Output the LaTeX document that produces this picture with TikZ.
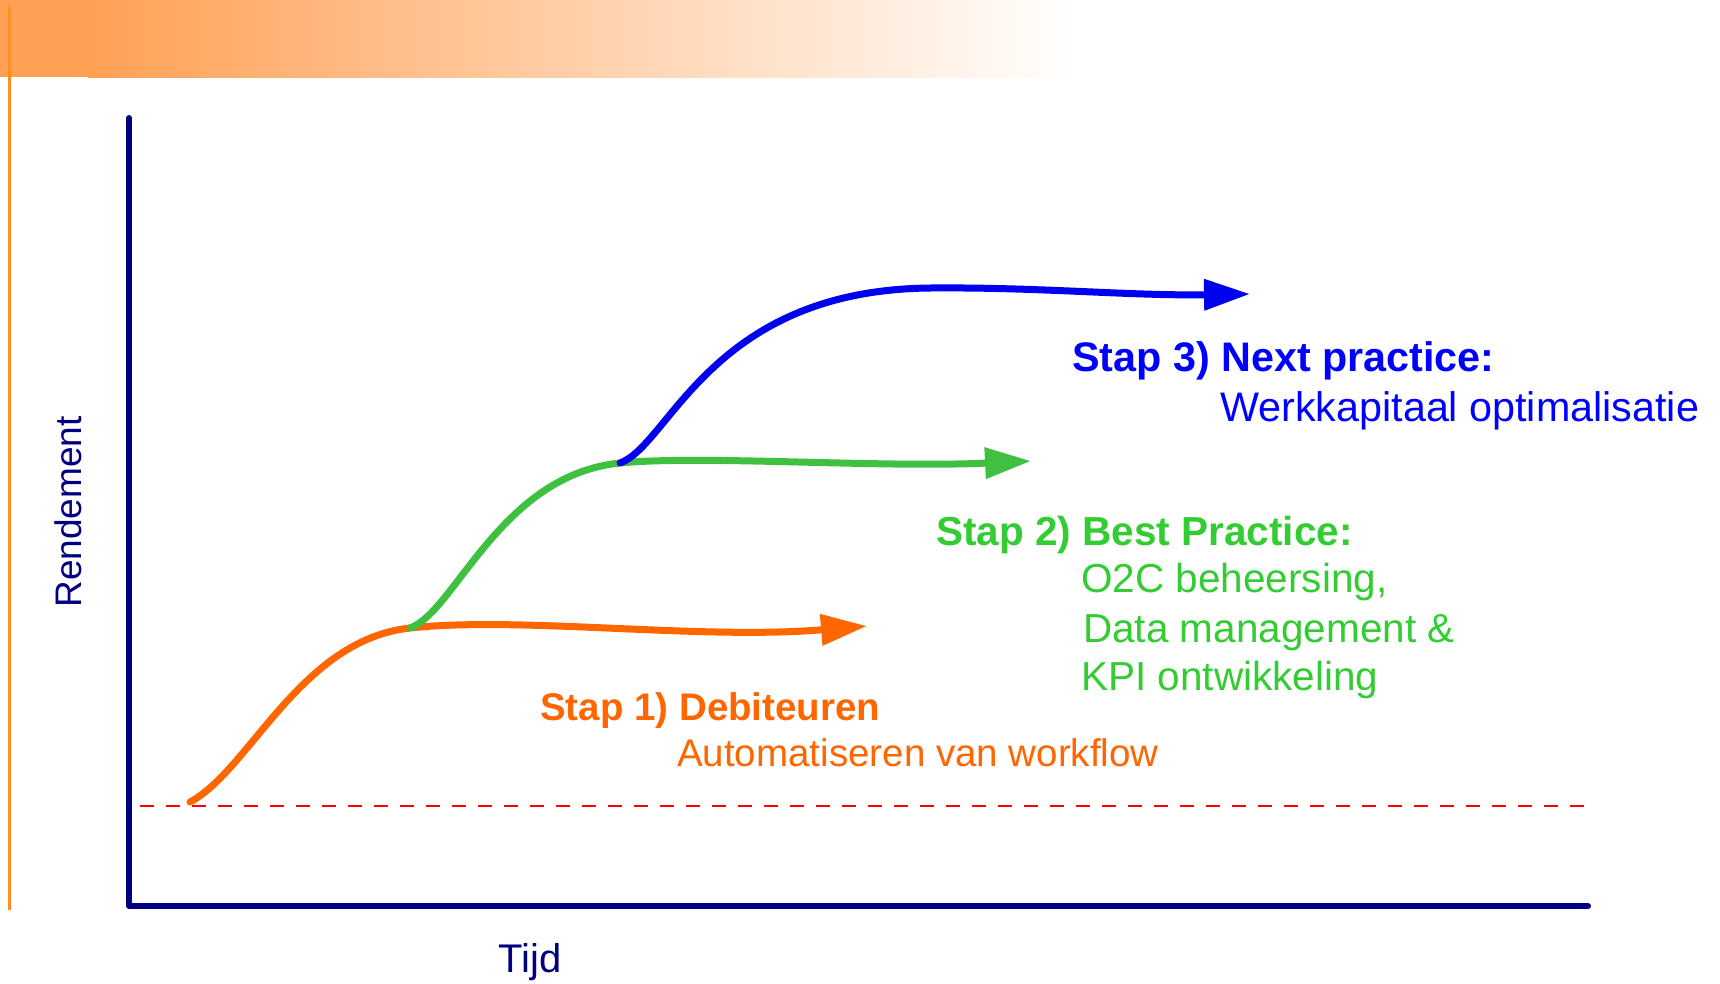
\documentclass[tikz,border=0pt]{standalone}
\usepackage{fontspec}
\setmainfont{Liberation Sans}
\usetikzlibrary{arrows.meta}
\definecolor{cOrange}{RGB}{255,102,0}
\definecolor{cGreen}{RGB}{64,192,64}
\definecolor{cGreenT}{RGB}{51,204,51}
\definecolor{cBlue}{RGB}{0,0,240}
\definecolor{cBlueT}{RGB}{0,0,255}
\definecolor{cNavy}{RGB}{0,0,128}
\definecolor{cBanner}{RGB}{255,160,85}
\definecolor{cSide}{RGB}{255,144,32}
\tikzset{
  big/.style={font=\fontsize{38.5}{46}\selectfont, inner sep=0pt},
  bigb/.style={font=\fontsize{38.5}{46}\selectfont\bfseries, inner sep=0pt},
  grn/.style={font=\fontsize{40.5}{48}\selectfont, inner sep=0pt},
  grnb/.style={font=\fontsize{40.5}{48}\selectfont\bfseries, inner sep=0pt},
  blu/.style={font=\fontsize{41.3}{49}\selectfont, inner sep=0pt},
  blub/.style={font=\fontsize{41.3}{49}\selectfont\bfseries, inner sep=0pt},
  curve/.style={line width=7pt, line cap=round},
  tip/.style={-{Triangle[length=46pt,width=30pt]}},
}
\begin{document}
\begin{tikzpicture}[x=1pt,y=-1pt]
\useasboundingbox (0,0) rectangle (1720,983);
% banner
\shade[left color=cBanner, right color=white] (88,0) rectangle (1075,77);
\fill[cBanner] (0,0) rectangle (92,77);
\draw[cSide, line width=3pt] (9,7) -- (9,910);
% axes
\coordinate (top) at (129,118);
\coordinate (orig) at (129,906);
\coordinate (right) at (1588,906);
\draw[cNavy, line width=6pt, line cap=round, line join=round] (top) -- (orig) -- (right);
% dashed base line
\coordinate (dl) at (140,806);
\coordinate (dr) at (1588,806);
\draw[red, line width=2pt, dash pattern=on 14pt off 12pt] (dl) -- (dr);
% curves
\coordinate (o0) at (190,802);
\coordinate (o1) at (410,628);
\coordinate (o2) at (867,626);
\coordinate (g1) at (620,463);
\coordinate (g2) at (1031,461);
\coordinate (b1) at (930,288);
\coordinate (b2) at (1250,294);
\draw[curve, cOrange, tip] (o0) .. controls (250,770) and (300,640) .. (o1)
  .. controls (520,616) and (700,640) .. (o2);
\draw[curve, cGreen, tip] (o1) .. controls (455,612) and (500,475) .. (g1)
  .. controls (700,455) and (880,468) .. (g2);
\draw[curve, cBlue, tip] (g1) .. controls (670,445) and (710,290) .. (b1)
  .. controls (1040,287) and (1130,296) .. (b2);
% texts
\node[bigb, text=cOrange, anchor=base west] (s1) at (540,720) {Stap 1) Debiteuren};
\node[big, text=cOrange, anchor=base west] (s1a) at (677,766) {Automatiseren van workflow};
\node[grnb, text=cGreenT, anchor=base west] (s2) at (936,545) {Stap 2) Best Practice:};
\node[grn, text=cGreenT, anchor=base west] (s2a) at (1081,592) {O2C beheersing,};
\node[grn, text=cGreenT, anchor=base west] (s2b) at (1083,642) {Data management \&};
\node[grn, text=cGreenT, anchor=base west] (s2c) at (1081,690) {KPI ontwikkeling};
\node[blub, text=cBlueT, anchor=base west] (s3) at (1072,371) {Stap 3) Next practice:};
\node[blu, text=cBlueT, anchor=base west] (s3a) at (1220,421) {Werkkapitaal optimalisatie};
\node[big, text=cNavy, rotate=90, font=\fontsize{37}{44}\selectfont] (yl) at (68,512) {Rendement};
\node[big, text=cNavy, font=\fontsize{40}{48}\selectfont] (xl) at (530,962) {Tijd};
\end{tikzpicture}
\end{document}
